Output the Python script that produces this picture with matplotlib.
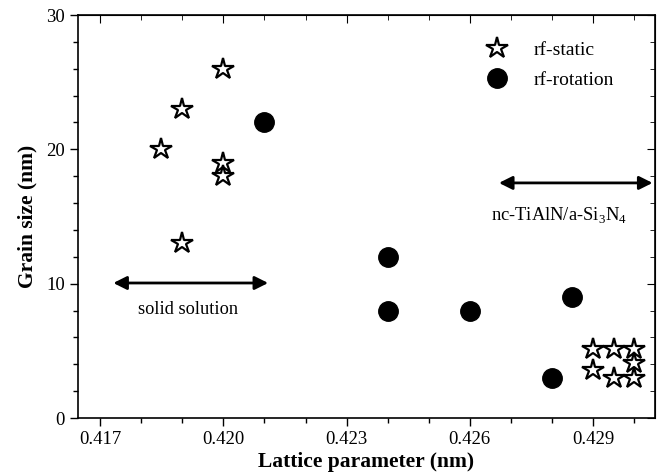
import matplotlib
matplotlib.use("Agg")
import matplotlib.pyplot as plt
from matplotlib.ticker import MultipleLocator, FixedLocator

plt.rcParams['font.family'] = ['Liberation Serif', 'DejaVu Serif']
plt.rcParams['mathtext.fontset'] = 'custom'
plt.rcParams['mathtext.rm'] = 'Liberation Serif'

static_x = [0.4200, 0.4190, 0.41848, 0.4200, 0.4200, 0.4190,
            0.4290, 0.4295, 0.4300, 0.4300, 0.4290, 0.4295, 0.4300]
static_y = [26, 23, 20, 19, 18, 13,
            5.1, 5.1, 5.1, 4.1, 3.6, 3.0, 3.0]
rot_x = [0.4210, 0.4240, 0.4240, 0.4260, 0.4285, 0.4280]
rot_y = [22, 12, 8, 8, 9, 3]
xticks = [0.417, 0.420, 0.423, 0.426, 0.429]
xticklabels = ['0.417', '0.420', '0.423', '0.426', '0.429']
yticks = [0, 10, 20, 30]

fig = plt.figure(figsize=(6.64, 4.73), dpi=100)
ax = fig.add_axes([78/664, 55/473, 577/664, 403/473])

ax.plot(static_x, static_y, linestyle='none', marker='*', ms=16,
        mfc='white', mec='black', mew=1.6, label='rf-static', zorder=3)
ax.plot(rot_x, rot_y, linestyle='none', marker='o', ms=14,
        mfc='black', mec='black', label='rf-rotation', zorder=3)

ax.set_xlim(0.41646, 0.43051)
ax.set_ylim(0, 30)
ax.xaxis.set_major_locator(FixedLocator(xticks))
ax.set_xticklabels(xticklabels)
ax.xaxis.set_minor_locator(MultipleLocator(0.001))
ax.set_yticks(yticks)
ax.yaxis.set_minor_locator(MultipleLocator(2))
ax.tick_params(axis='both', which='both', labelsize=13.5, width=1,
               direction='out', top=False, right=False)
ax.tick_params(which='major', length=6)
ax.tick_params(which='minor', length=3.5)
for sp in ax.spines.values():
    sp.set_linewidth(1.2)

axt = ax.secondary_xaxis('top')
axt.xaxis.set_major_locator(FixedLocator(xticks))
axt.xaxis.set_minor_locator(MultipleLocator(0.001))
axt.tick_params(which='both', direction='in', labeltop=False)
axt.tick_params(which='major', length=6)
axt.tick_params(which='minor', length=3.5)
axr = ax.secondary_yaxis('right')
axr.set_yticks(yticks)
axr.yaxis.set_minor_locator(MultipleLocator(2))
axr.tick_params(which='both', direction='in', labelright=False)
axr.tick_params(which='major', length=6)
axr.tick_params(which='minor', length=3.5)

ax.set_xlabel('Lattice parameter (nm)', fontsize=15.5, fontweight='bold', labelpad=3)
ax.set_ylabel('Grain size (nm)', fontsize=15.5, fontweight='bold', labelpad=6)

ax.annotate('', xy=(0.41732, 10.05), xytext=(0.42109, 10.05),
            arrowprops=dict(arrowstyle='<|-|>', color='black', lw=2,
                            mutation_scale=20, shrinkA=0, shrinkB=0))
ax.text(0.41914, 8.04, 'solid solution', ha='center', va='center', fontsize=13.2)
ax.annotate('', xy=(0.42671, 17.5), xytext=(0.43045, 17.5),
            arrowprops=dict(arrowstyle='<|-|>', color='black', lw=2,
                            mutation_scale=20, shrinkA=0, shrinkB=0))
ax.text(0.42818, 15.1, r'nc-TiAlN/a-Si$_3$N$_4$', ha='center', va='center', fontsize=13.3)

ax.legend(loc='upper left', bbox_to_anchor=(0.679, 0.954), frameon=False,
          fontsize=14, handlelength=2.0, handletextpad=0.87, labelspacing=0.65,
          borderaxespad=0, borderpad=0.4)

fig.savefig('out.png', dpi=100)
